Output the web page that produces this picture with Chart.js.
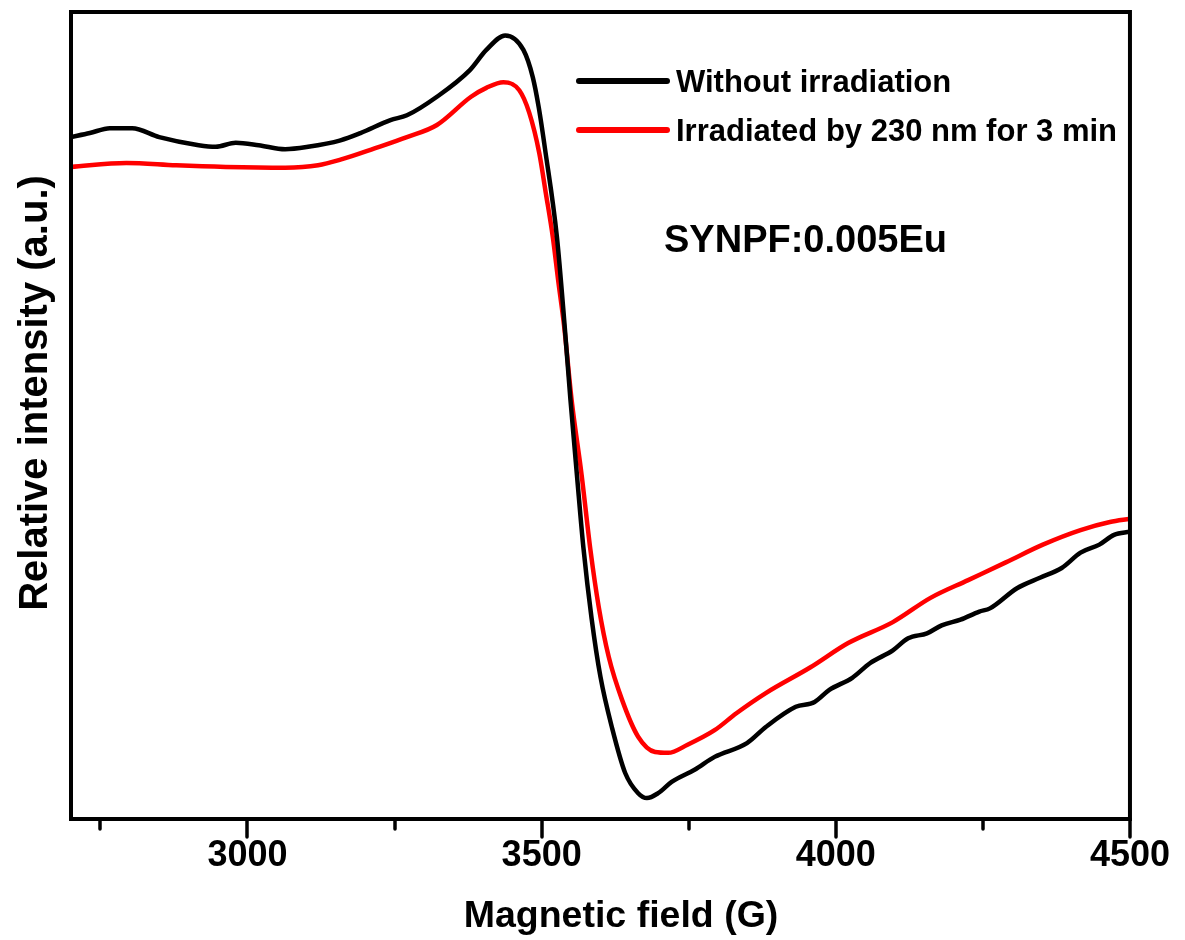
<!DOCTYPE html>
<html>
<head>
<meta charset="utf-8">
<script src="https://cdn.jsdelivr.net/npm/chart.js@4.4.1/dist/chart.umd.min.js"></script>
<style>
  html, body { margin: 0; padding: 0; background: #ffffff; }
  #wrap { width: 1185px; height: 940px; position: relative; }
  canvas { display: block; }
</style>
</head>
<body>
<div id="wrap"><canvas id="c" width="1185" height="940"></canvas></div>
<script>
// ---- Data ----
const blackField = [2700, 2732, 2766, 2804, 2850, 2917, 2946, 2980, 3019, 3064, 3103, 3158, 3192, 3243, 3271, 3322, 3378, 3406, 3438, 3469, 3485, 3495, 3506, 3526, 3539, 3549, 3560, 3571, 3585, 3600, 3620, 3642, 3664, 3679, 3698, 3721, 3760, 3794, 3849, 3881, 3932, 3964, 3989, 4028, 4058, 4097, 4123, 4155, 4180, 4212, 4244, 4262, 4308, 4347, 4384, 4416, 4448, 4473, 4500];
const blackIntensity = [84.5, 85.0, 85.6, 85.6, 84.5, 83.5, 83.3, 83.8, 83.5, 83.0, 83.3, 84.1, 85.0, 86.6, 87.2, 89.5, 92.8, 95.3, 97.1, 95.3, 91.9, 88.2, 82.9, 72.1, 61.2, 51.9, 42.6, 33.6, 24.8, 17.6, 11.2, 5.7, 3.2, 2.6, 3.2, 4.6, 6.1, 7.7, 9.4, 11.4, 13.9, 14.5, 16.0, 17.5, 19.3, 20.9, 22.4, 23.0, 24.0, 24.7, 25.7, 26.1, 28.6, 29.9, 31.1, 33.0, 34.0, 35.2, 35.6];

const redField = [2700, 2794, 2879, 2963, 3064, 3120, 3158, 3216, 3271, 3322, 3380, 3406, 3435, 3462, 3479, 3496, 3507, 3519, 3528, 3538, 3551, 3568, 3583, 3597, 3614, 3637, 3664, 3693, 3715, 3748, 3794, 3831, 3881, 3957, 4021, 4097, 4161, 4225, 4289, 4352, 4416, 4466, 4500];
const redIntensity = [80.8, 81.3, 81.0, 80.8, 80.7, 81.0, 81.7, 83.1, 84.5, 86.0, 89.5, 90.6, 91.3, 90.3, 87.5, 82.5, 77.6, 72.1, 66.8, 61.2, 51.9, 42.6, 33.3, 26.3, 20.1, 14.7, 10.2, 8.3, 8.2, 9.2, 11.0, 13.1, 15.6, 18.8, 21.8, 24.4, 27.4, 29.6, 31.8, 34.0, 35.8, 36.8, 37.2];

const seriesNames = ['Without irradiation', 'Irradiated by 230 nm for 3 min'];
const seriesColors = ['#000000', '#ff0000'];
const xTickValues = [2750, 3000, 3250, 3500, 3750, 4000, 4250, 4500];
const xMajorLabels = [3000, 3500, 4000, 4500];
const sampleLabel = 'SYNPF:0.005Eu';
const xTitle = 'Magnetic field (G)';
const yTitle = 'Relative intensity (a.u.)';

const FONT = '"Liberation Sans", Arial, sans-serif';

const framePlugin = {
  id: 'frameAndDecor',
  afterDraw(chart) {
    const ctx = chart.ctx;
    const a = chart.chartArea;
    const xs = chart.scales.x;
    ctx.save();
    // tick marks (major long, minor short)
    ctx.strokeStyle = '#000';
    ctx.lineCap = 'round';
    ctx.lineWidth = 3.5;
    xTickValues.forEach(v => {
      const px = Math.round(xs.getPixelForValue(v));
      const len = xMajorLabels.includes(v) ? 18 : 10;
      ctx.beginPath();
      ctx.moveTo(px, a.bottom);
      ctx.lineTo(px, a.bottom + len);
      ctx.stroke();
    });
    // frame
    ctx.lineCap = 'butt';
    ctx.lineJoin = 'miter';
    ctx.lineWidth = 4;
    ctx.strokeRect(a.left, a.top, a.right - a.left, a.bottom - a.top);
    // legend
    const legendY = [a.top + 69, a.top + 118];
    ctx.textBaseline = 'middle';
    ctx.textAlign = 'left';
    ctx.font = 'bold 31px ' + FONT;
    seriesNames.forEach((name, i) => {
      ctx.strokeStyle = seriesColors[i];
      ctx.lineWidth = 6;
      ctx.lineCap = 'round';
      ctx.beginPath();
      ctx.moveTo(579, legendY[i]);
      ctx.lineTo(667, legendY[i]);
      ctx.stroke();
      ctx.fillStyle = '#000';
      ctx.fillText(name, 676, legendY[i] + 2);
    });
    // sample annotation
    ctx.font = 'bold 38px ' + FONT;
    ctx.fillText(sampleLabel, 664, a.top + 230);
    // axis titles
    ctx.textAlign = 'center';
    ctx.textBaseline = 'alphabetic';
    ctx.font = 'bold 37.5px ' + FONT;
    ctx.fillText(xTitle, 621, 927);
    ctx.translate(47, 393);
    ctx.rotate(-Math.PI / 2);
    ctx.font = 'bold 40px ' + FONT;
    ctx.fillText(yTitle, 0, 0);
    ctx.restore();
  }
};

const ctx = document.getElementById('c').getContext('2d');
new Chart(ctx, {
  type: 'line',
  data: {
    datasets: [
      {
        label: seriesNames[0],
        data: blackField.map((x, i) => ({ x: x, y: blackIntensity[i] })),
        borderColor: seriesColors[0],
        borderWidth: 4.5,
        pointRadius: 0,
        cubicInterpolationMode: 'monotone',
        fill: false
      },
      {
        label: seriesNames[1],
        data: redField.map((x, i) => ({ x: x, y: redIntensity[i] })),
        borderColor: seriesColors[1],
        borderWidth: 4.5,
        pointRadius: 0,
        cubicInterpolationMode: 'monotone',
        fill: false
      }
    ]
  },
  options: {
    responsive: false,
    animation: false,
    devicePixelRatio: 1,
    layout: { padding: { top: 12, right: 46, left: 0, bottom: 0 } },
    plugins: {
      legend: { display: false },
      tooltip: { enabled: false }
    },
    scales: {
      x: {
        type: 'linear',
        min: 2700,
        max: 4500,
        afterBuildTicks(scale) { scale.ticks = xTickValues.map(v => ({ value: v })); },
        afterFit(scale) { scale.height = 121; },
        grid: { display: true, drawOnChartArea: false, drawTicks: false, color: 'rgba(0,0,0,0)' },
        border: { display: false },
        ticks: {
          autoSkip: false,
          maxRotation: 0,
          padding: 15,
          color: '#000',
          font: { family: FONT, size: 36, weight: 'bold' },
          callback: (v) => xMajorLabels.includes(v) ? String(v) : ''
        },
        title: { display: false, text: xTitle }
      },
      y: {
        type: 'linear',
        min: 0,
        max: 100,
        afterFit(scale) { scale.width = 71; },
        grid: { display: false },
        border: { display: false },
        ticks: { display: false },
        title: { display: false, text: yTitle }
      }
    }
  },
  plugins: [framePlugin]
});
</script>
</body>
</html>
